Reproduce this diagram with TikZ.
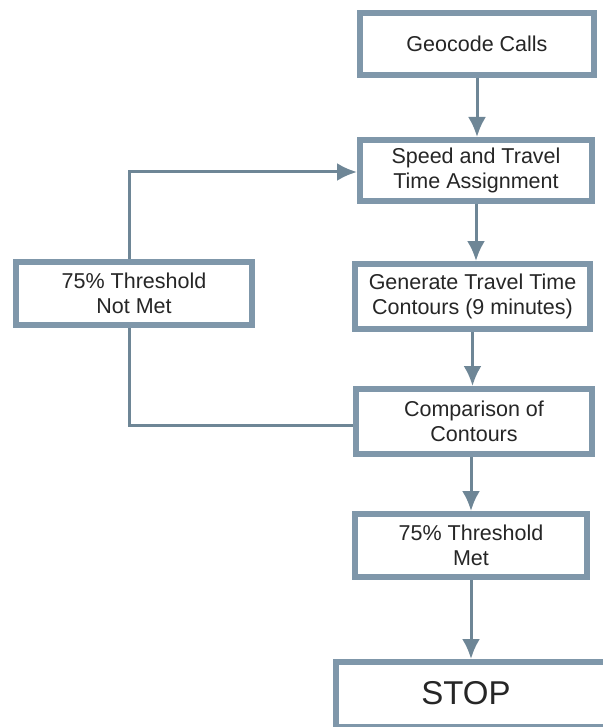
\documentclass[tikz,border=0pt]{standalone}
\usepackage{fontspec}
\setmainfont{Liberation Sans}
\usetikzlibrary{arrows.meta,positioning}
\definecolor{boxblue}{HTML}{7F97AA}
\definecolor{lineblue}{HTML}{6E8696}
\definecolor{txtgray}{HTML}{262626}

\begin{document}
\begin{tikzpicture}[x=1pt,y=-1pt,>={Latex[length=20pt,width=18pt]},
  box/.style={draw=boxblue,line width=6pt,fill=white,inner sep=0pt,align=center,
    text=txtgray,font=\fontsize{21.5}{25}\selectfont,minimum height=63pt},
  link/.style={lineblue,line width=3pt}]
\useasboundingbox (0,0) rectangle (602,727);
\node[box,minimum width=234pt,minimum height=62pt] (geo) at (477,44) {Geocode Calls};
\node[box,minimum width=232pt,minimum height=61pt] (speed) at (476,170.5) {Speed and Travel\\Time Assignment};
\node[box,minimum width=235pt,minimum height=65pt] (gen) at (472.5,296.5) {Generate Travel Time\\Contours (9 minutes)};
\node[box,minimum width=236pt,minimum height=65pt] (comp) at (474,421.5) {Comparison of\\Contours};
\node[box,minimum width=232pt] (met) at (471,545.5) {75\% Threshold\\Met};
\node[box,minimum width=320pt,minimum height=65pt] (stop) at (496,694.5) {};
\node[text=txtgray,font=\fontsize{33}{38}\selectfont] (stoptxt) at (466,693) {STOP};
\node[box,minimum width=236pt] (notmet) at (134,293.5) {75\% Threshold\\Not Met};
% main chain
\draw[link,->] (geo.south) -- (geo.south |- speed.north);
\draw[link,->] (speed.south) -- (speed.south |- gen.north);
\draw[link,->] (gen.south) -- (gen.south |- comp.north);
\draw[link,->] (met.north |- comp.south) -- (met.north);
\draw[link,->] (met.south) -- (met.south |- stop.north);
% loop back
\draw[link,->] ([xshift=-5pt]notmet.north) |- ([yshift=-1.5pt]speed.west);
\draw[link] ([xshift=-5pt]notmet.south) |- ([yshift=-3.5pt]comp.west);
\end{tikzpicture}
\end{document}
